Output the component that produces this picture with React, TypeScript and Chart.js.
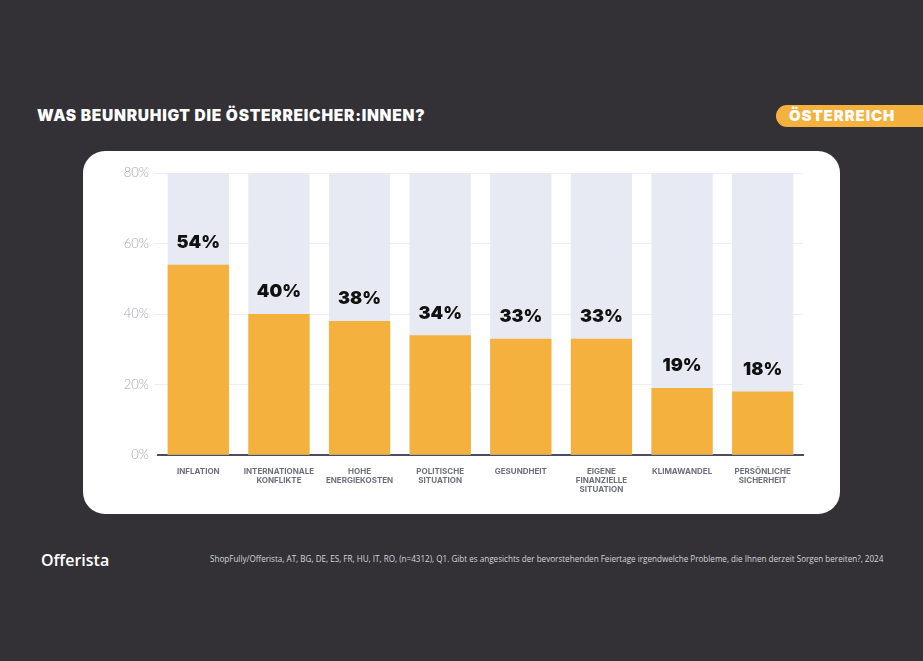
import React, { useEffect, useRef } from "react";
import { Chart, registerables } from "chart.js";

Chart.register(...registerables);

const categories: string[][] = [
  ["INFLATION"],
  ["INTERNATIONALE", "KONFLIKTE"],
  ["HOHE", "ENERGIEKOSTEN"],
  ["POLITISCHE", "SITUATION"],
  ["GESUNDHEIT"],
  ["EIGENE", "FINANZIELLE", "SITUATION"],
  ["KLIMAWANDEL"],
  ["PERSÖNLICHE", "SICHERHEIT"],
];
const values: number[] = [54, 40, 38, 34, 33, 33, 19, 18];
const trackValues: number[] = [80, 80, 80, 80, 80, 80, 80, 80];
const yTicks: number[] = [0, 20, 40, 60, 80];

const title = "WAS BEUNRUHIGT DIE ÖSTERREICHER:INNEN?";
const badge = "ÖSTERREICH";
const source =
  "ShopFully/Offerista, AT, BG, DE, ES, FR, HU, IT, RO, (n=4312), Q1. Gibt es angesichts der bevorstehenden Feiertage irgendwelche Probleme, die Ihnen derzeit Sorgen bereiten?, 2024";

const ORANGE = "#F5B13E";
const TRACK = "#E7E9F3";
const BG = "#333136";

const valueLabelPlugin = {
  id: "valueLabels",
  afterDatasetsDraw(chart: any) {
    const meta = chart.getDatasetMeta(0);
    const ctx = chart.ctx;
    ctx.save();
    ctx.font = "900 18px Inter, 'Open Sans', sans-serif";
    ctx.fillStyle = "#111111";
    ctx.textAlign = "center";
    ctx.textBaseline = "middle";
    meta.data.forEach((bar: any, i: number) => {
      ctx.fillText(values[i] + "%", bar.x, bar.y - 22);
    });
    ctx.restore();
  },
};

function BarChart() {
  const ref = useRef<HTMLCanvasElement | null>(null);
  useEffect(() => {
    if (!ref.current) return;
    const chart = new Chart(ref.current, {
      type: "bar",
      data: {
        labels: categories,
        datasets: [
          {
            data: values,
            backgroundColor: ORANGE,
            barPercentage: 0.76,
            categoryPercentage: 1,
            grouped: false,
          },
          {
            data: trackValues,
            backgroundColor: TRACK,
            barPercentage: 0.76,
            categoryPercentage: 1,
            grouped: false,
          },
        ],
      },
      options: {
        animation: false,
        responsive: false,
        maintainAspectRatio: false,
        layout: { padding: { top: 22, right: 37, left: 0, bottom: 0 } },
        plugins: {
          legend: { display: false },
          tooltip: { enabled: false },
        },
        scales: {
          y: {
            min: 0,
            max: 80,
            afterBuildTicks: (s: any) => {
              s.ticks = yTicks.map((v) => ({ value: v }));
            },
            afterFit: (s: any) => {
              s.width = 75;
            },
            border: { display: false },
            grid: {
              color: "#EDEDF2",
              lineWidth: 1,
              drawTicks: true,
              tickLength: 4,
            },
            ticks: {
              padding: 5,
              color: "#A4A4AE",
              font: { family: "Lato, 'Open Sans', sans-serif", size: 13, weight: 300 },
              callback: (v: any) => v + "%",
            },
          },
          x: {
            afterFit: (s: any) => {
              s.height = 59;
            },
            border: { display: true, color: "#4B4C5C", width: 2 },
            grid: { display: false },
            ticks: {
              padding: 4,
              color: "#6E6F7E",
              maxRotation: 0,
              autoSkip: false,
              font: { family: "Inter, 'Open Sans', sans-serif", size: 8, weight: 700, lineHeight: 1.15 },
            },
          },
        },
      },
      plugins: [valueLabelPlugin],
    });
    return () => chart.destroy();
  }, []);
  return (
    <canvas
      ref={ref}
      width={757}
      height={363}
      style={{ position: "absolute", left: 0, top: 0, width: 757, height: 363 }}
    />
  );
}

export default function App() {
  return (
    <div
      style={{
        position: "fixed",
        left: 0,
        top: 0,
        width: 923,
        height: 661,
        background: BG,
        overflow: "hidden",
        fontFamily: "Inter, 'Open Sans', sans-serif",
      }}
    >
      <div
        style={{
          position: "absolute",
          left: 37,
          top: 105,
          color: "#fff",
          fontWeight: 900,
          fontSize: 15.5,
          lineHeight: "22px",
          letterSpacing: 0.75,
          whiteSpace: "nowrap",
        }}
      >
        {title}
      </div>
      <div
        style={{
          position: "absolute",
          left: 776,
          top: 105,
          width: 147,
          height: 22,
          background: ORANGE,
          borderRadius: "11px 0 0 11px",
          color: "#fff",
          fontWeight: 900,
          fontSize: 15,
          lineHeight: "22px",
          letterSpacing: 0.9,
          paddingLeft: 13,
          boxSizing: "border-box",
          whiteSpace: "nowrap",
        }}
      >
        {badge}
      </div>
      <div
        style={{
          position: "absolute",
          left: 83,
          top: 151,
          width: 757,
          height: 363,
          background: "#fff",
          borderRadius: 22,
        }}
      >
        <BarChart />
      </div>
      <div
        style={{
          position: "absolute",
          left: 41,
          top: 549,
          color: "#fff",
          fontWeight: 600,
          fontSize: 16,
          lineHeight: "22px",
          fontFamily: "'Open Sans', sans-serif",
        }}
      >
        Offerista
      </div>
      <div
        style={{
          position: "absolute",
          left: 210,
          top: 553,
          color: "#D4D4D8",
          fontSize: 8.1,
          lineHeight: "12px",
          whiteSpace: "nowrap",
          fontFamily: "'Open Sans', sans-serif",
        }}
      >
        {source}
      </div>
    </div>
  );
}
